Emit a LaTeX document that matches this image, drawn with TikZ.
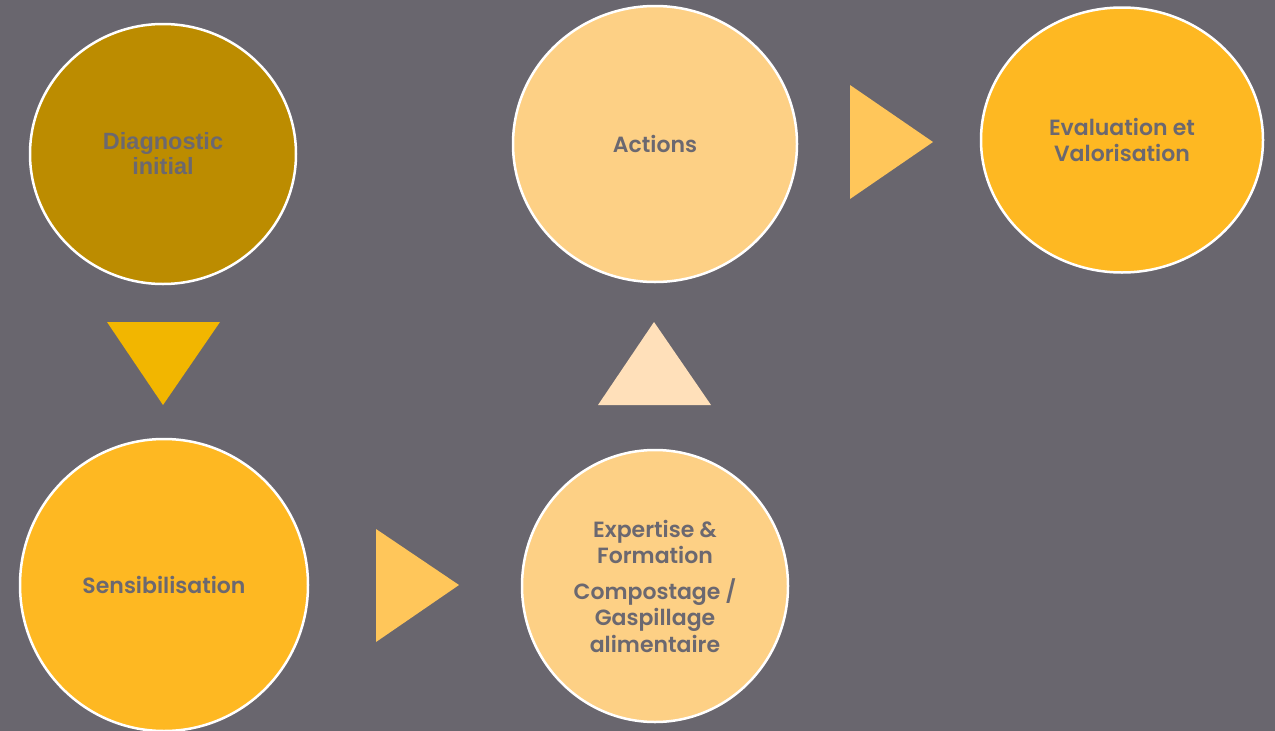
\documentclass[tikz,border=0pt]{standalone}
\usepackage{fontspec}
\setmainfont{Poppins}[BoldFont={Poppins SemiBold}]
\newfontfamily\arialf{Liberation Sans}
\usetikzlibrary{shapes.geometric}
\definecolor{bg}{HTML}{69666E}
\definecolor{txt}{HTML}{6B6870}
\definecolor{cDiag}{HTML}{BC8C00}
\definecolor{cLight}{HTML}{FDD085}
\definecolor{cOrange}{HTML}{FEB822}
\definecolor{cDown}{HTML}{F2B600}
\definecolor{cUp}{HTML}{FFE0BA}
\definecolor{cRight}{HTML}{FFC65A}
\tikzset{
  stage/.style={ellipse, draw=white, line width=2.5pt, inner sep=0pt, text=txt, align=center, font=\fontsize{22}{26.5}\selectfont\bfseries},
}
\begin{document}
\begin{tikzpicture}[x=1pt,y=-1pt]
\fill[bg] (0,0) rectangle (1275,731);
\useasboundingbox (0,0) rectangle (1275,731);
\node[stage, fill=cDiag, minimum width=266pt, minimum height=260pt, font=\arialf\fontsize{23.5}{25}\selectfont\bfseries] (diag) at (163,154) {Diagnostic\\initial};
\node[stage, fill=cLight, minimum width=284pt, minimum height=276pt] (act) at (655,144) {Actions};
\node[stage, fill=cOrange, minimum width=282pt, minimum height=265pt] (eval) at (1122,140) {Evaluation et\\Valorisation};
\node[stage, fill=cOrange, minimum width=288pt, minimum height=292pt] (sens) at (164,585) {Sensibilisation};
\node[stage, fill=cLight, minimum width=266pt, minimum height=272pt] (exp) at (655,586) {Expertise \&\\Formation\\[9pt]Compostage /\\Gaspillage\\alimentaire};
\fill[cDown] (107,322) -- (220,322) -- (163,405) -- cycle;
\fill[cUp] (598,405) -- (711,405) -- (654,322) -- cycle;
\fill[cRight] (376,529) -- (376,642) -- (459,585) -- cycle;
\fill[cRight] (850,85) -- (850,199) -- (933,142) -- cycle;
\end{tikzpicture}
\end{document}
